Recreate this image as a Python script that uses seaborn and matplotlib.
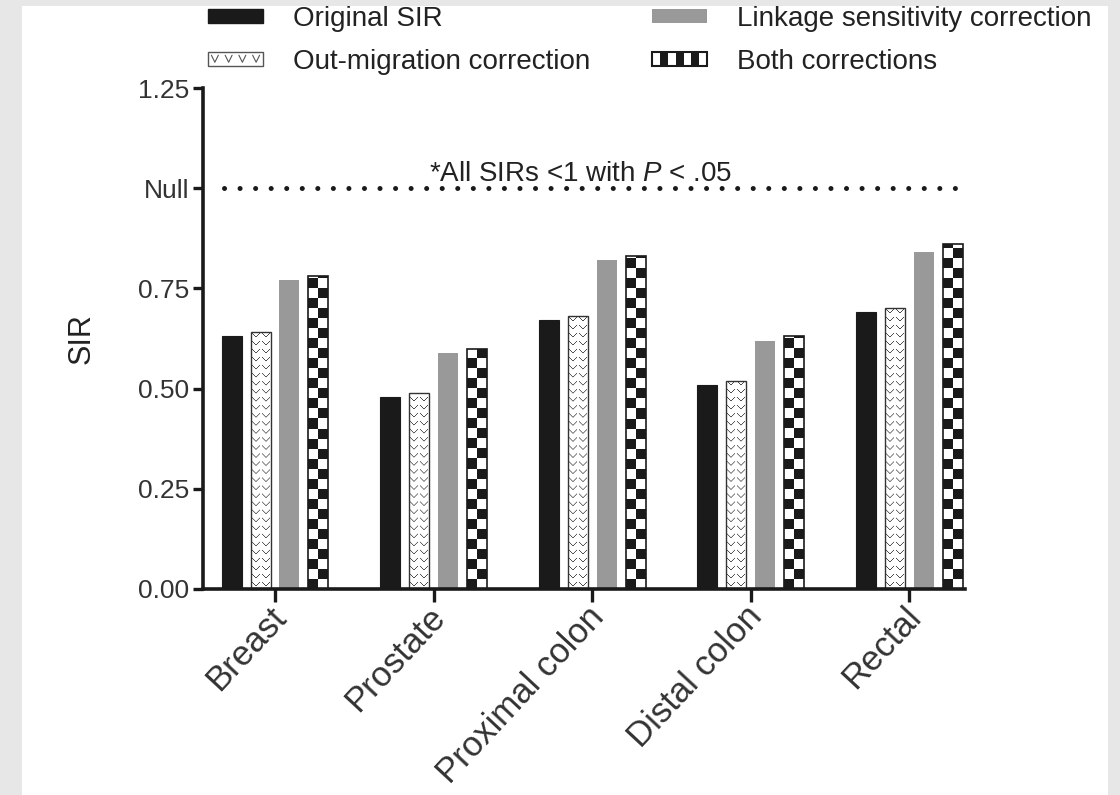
import numpy as np
import pandas as pd
import matplotlib
matplotlib.use("Agg")
import matplotlib.pyplot as plt
import matplotlib.transforms as mtransforms
import seaborn as sns
from matplotlib.patches import Rectangle, Patch
from matplotlib.lines import Line2D
from matplotlib.colors import ListedColormap
from matplotlib.legend_handler import HandlerBase

# ---------------- data ----------------
sites = ["Breast", "Prostate", "Proximal colon", "Distal colon", "Rectal"]
methods = ["Original SIR", "Out-migration correction",
           "Linkage sensitivity correction", "Both corrections"]
original_sir = [0.63, 0.48, 0.67, 0.51, 0.69]
out_migration = [0.64, 0.49, 0.68, 0.52, 0.70]
linkage = [0.77, 0.59, 0.82, 0.62, 0.84]
both = [0.78, 0.60, 0.83, 0.63, 0.86]
ytick_values = [0, 0.25, 0.5, 0.75, 1.0, 1.25]
ytick_labels = ["0.00", "0.25", "0.50", "0.75", "Null", "1.25"]
null_value = 1.0
note = r"*All SIRs <1 with $P$ < .05"
ylabel = "SIR"

series = [original_sir, out_migration, linkage, both]
df = pd.DataFrame({
    "site": np.repeat([sites], len(methods), axis=0).ravel(),
    "method": np.repeat(methods, len(sites)),
    "sir": np.concatenate(series),
})

# ---------------- style ----------------
sns.set_theme(style="ticks")
plt.rcParams["font.family"] = ["Liberation Sans", "DejaVu Sans"]
plt.rcParams["mathtext.fontset"] = "custom"
plt.rcParams["mathtext.it"] = "Liberation Sans:italic"
plt.rcParams["mathtext.rm"] = "Liberation Sans"

BLACK = "#1a1a1a"
GRAY = "#999999"
palette = {methods[0]: BLACK, methods[1]: "white", methods[2]: GRAY, methods[3]: "white"}

W, H = 1120, 795
fig = plt.figure(figsize=(W / 100, H / 100), dpi=100)
fig.patch.set_facecolor("#e7e7e7")
fig.add_artist(Rectangle((22 / W, 0), (1108 - 22) / W, (H - 6) / H,
                         transform=fig.transFigure, facecolor="white",
                         edgecolor="none", zorder=-10))

ax = fig.add_axes([203 / W, 1 - 589 / H, (965 - 203) / W, (589 - 88) / H])
ax.patch.set_facecolor("white")

sns.barplot(data=df, x="site", y="sir", hue="method", hue_order=methods,
            order=sites, palette=palette, saturation=1, width=0.73, gap=0.31,
            errorbar=None, legend=False, ax=ax)

cont = ax.containers
for b in cont[0]:
    b.set_edgecolor(BLACK); b.set_linewidth(0.8)
for b in cont[2]:
    b.set_edgecolor("none")

# checker fill
checker_cmap = ListedColormap([BLACK, "white"])
cell_h = 0.025
for b in cont[3]:
    x0, w, h = b.get_x(), b.get_width(), b.get_height()
    nrows = int(np.ceil(h / cell_h))
    arr = (np.add.outer(np.arange(nrows), np.arange(2)) % 2).astype(float)
    im = ax.imshow(arr, cmap=checker_cmap, vmin=0, vmax=1,
                   extent=[x0, x0 + w, 0, nrows * cell_h], origin="lower",
                   aspect="auto", interpolation="nearest", zorder=2.1)
    im.set_clip_path(b)
    ax.add_patch(Rectangle((x0, 0), w, h, fill=False, edgecolor=BLACK,
                           linewidth=1.2, zorder=2.2))

# small "v" texture fill
tile = np.ones((8, 10))
for r, (a, c) in enumerate([(1, 8), (2, 7), (3, 6), (4, 5)]):
    tile[r + 1, a] = 0.3
    tile[r + 1, c] = 0.3
v_h = 0.02
for b in cont[1]:
    x0, w, h = b.get_x(), b.get_width(), b.get_height()
    nrows = int(np.ceil(h / v_h))
    arr = np.tile(tile, (nrows, 2))
    im = ax.imshow(arr, cmap="gray", vmin=0, vmax=1,
                   extent=[x0, x0 + w, 0, nrows * v_h], origin="upper",
                   aspect="auto", interpolation="antialiased", zorder=2.1)
    im.set_clip_path(b)
    ax.add_patch(Rectangle((x0, 0), w, h, fill=False, edgecolor="#333333",
                           linewidth=1.0, zorder=2.2))

# null line + note
ax.axhline(null_value, xmin=0.028, xmax=1.0, color=BLACK, lw=3.6,
           linestyle=(0, (0.01, 3.1)), dash_capstyle="round", zorder=3)
ax.text(0.496, null_value + 0.018, note, transform=ax.get_yaxis_transform(),
        ha="center", va="baseline", fontsize=20, color="#222222")

# axes
ax.set_xlim(-0.454, 4.35)
ax.set_ylim(0, 1.25)
ax.set_yticks(ytick_values)
ax.set_yticklabels(ytick_labels)
ax.set_xlabel("")
ax.set_ylabel(ylabel, fontsize=22, color="#222222", labelpad=30)
sns.despine(ax=ax)
for s in ["left", "bottom"]:
    ax.spines[s].set_linewidth(2.6)
    ax.spines[s].set_color(BLACK)
ax.tick_params(axis="y", length=7, width=2.4, pad=3, labelsize=19,
               colors=BLACK, labelcolor="#333333")
ax.tick_params(axis="x", length=9, width=2.4, pad=2, labelsize=25,
               colors=BLACK, labelcolor="#333333")
shift = mtransforms.ScaledTranslation(-6 / 100, 4 / 100, fig.dpi_scale_trans)
for lab in ax.get_xticklabels():
    lab.set_rotation(47)
    lab.set_ha("right")
    lab.set_rotation_mode("anchor")
    lab.set_transform(lab.get_transform() + shift)


# legend
class VHandler(HandlerBase):
    def create_artists(self, legend, orig_handle, xd, yd, width, height, fontsize, trans):
        arts = [Rectangle((-xd, -yd), width, height, facecolor="white",
                          edgecolor="#555555", lw=1.0, transform=trans)]
        for i in range(4):
            cx = -xd + width * (i + 0.5) / 4
            arts.append(Line2D([cx - 2.5, cx, cx + 2.5],
                               [-yd + height * 0.75, -yd + height * 0.25, -yd + height * 0.75],
                               color="#555555", lw=0.8, transform=trans))
        return arts


class CheckerHandler(HandlerBase):
    def create_artists(self, legend, orig_handle, xd, yd, width, height, fontsize, trans):
        arts = []
        n = 7
        cw = width / n
        for i in range(n):
            arts.append(Rectangle((-xd + i * cw, -yd), cw, height,
                                  facecolor=BLACK if i % 2 else "white",
                                  edgecolor="none", transform=trans))
        arts.append(Rectangle((-xd, -yd), width, height, facecolor="none",
                              edgecolor=BLACK, lw=1.5, transform=trans))
        return arts


h_black = Patch(facecolor=BLACK, edgecolor=BLACK)
h_v = Patch(facecolor="white")
h_gray = Patch(facecolor=GRAY, edgecolor="none")
h_check = Patch(facecolor="white")
fig.legend([h_black, h_v, h_gray, h_check], methods, ncol=2,
           loc="upper left", bbox_to_anchor=(208 / W, 1 - 6 / H),
           bbox_transform=fig.transFigure, frameon=False, fontsize=20,
           handlelength=1.98, handleheight=0.4, handletextpad=1.08,
           columnspacing=2.23, labelspacing=0.6, borderpad=0, borderaxespad=0,
           handler_map={h_v: VHandler(), h_check: CheckerHandler()},
           labelcolor="#222222")

fig.savefig("out.png", dpi=100, facecolor=fig.get_facecolor())
